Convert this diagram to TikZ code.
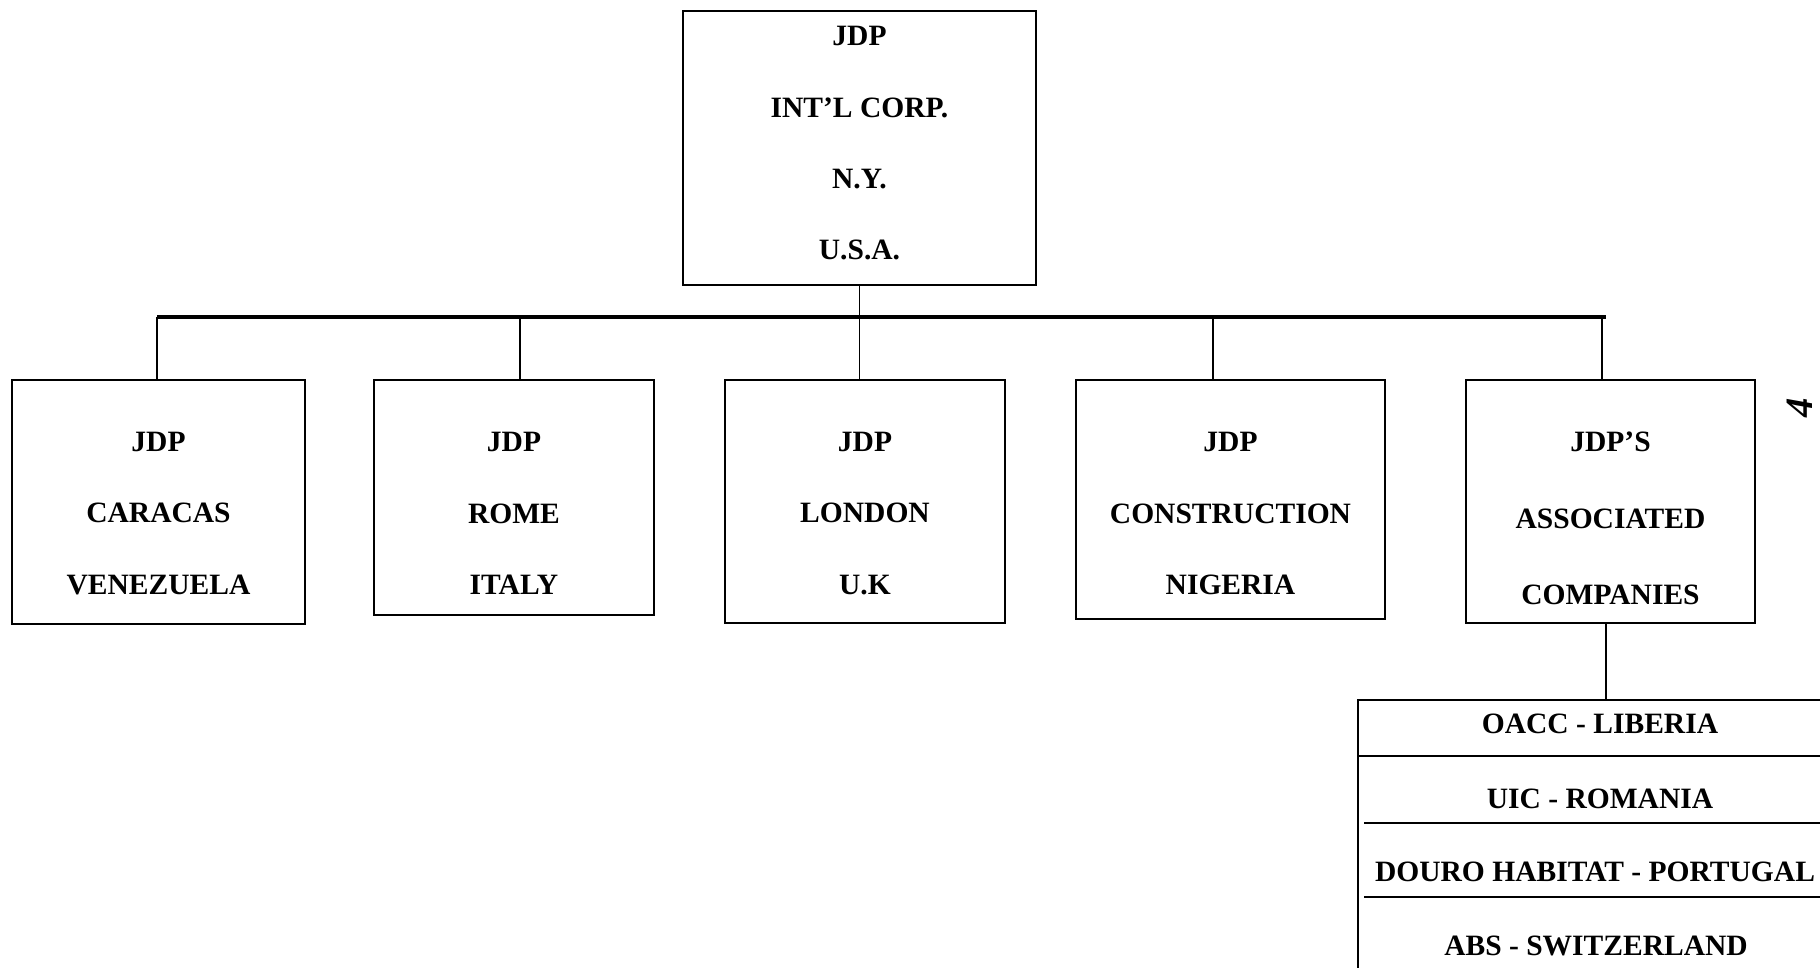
\documentclass[tikz,border=0pt]{standalone}
\usepackage{fontspec}
\setmainfont{Liberation Serif}
\tikzset{
      unit/.style = { draw, line width=0.6pt, inner sep=0pt },
     title/.style = { font=\bfseries\fontsize{8.4}{20.3}\selectfont, align=center, inner sep=0pt },
   program/.style = { font=\bfseries\fontsize{8.4}{21.8}\selectfont, align=center, inner sep=0pt },
      item/.style = { font=\bfseries\fontsize{8.4}{10}\selectfont, inner sep=0pt },
       bar/.style = { line width=1.3pt },
      link/.style = { line width=0.5pt },
}

\begin{document}
\begin{tikzpicture}
  \useasboundingbox (0,0) rectangle (18.2,-9.68);
  \clip (0,0) rectangle (18.2,-9.68);

  % head office
  \node[unit, minimum width=3.53cm, minimum height=2.74cm] (hq) at (8.595,-1.48) {};
  \node[title] (hq-t) at (8.595,-1.435) {JDP\\INT'L CORP.\\N.Y.\\U.S.A.};

  % bar
  \coordinate (bar-l) at (1.57,-3.17);
  \coordinate (bar-r) at (16.06,-3.17);
  \draw [bar] (bar-l) -- (bar-r);
  \draw [link] (hq.south) -- (hq.south |- bar-l);

  % branches
  \foreach \n/\x/\y/\w/\h/\ty/\dx/\txt in {
      caracas/1.585/5.02/2.93/2.44/5.135/1.57/{JDP\\CARACAS\\VENEZUELA},
      rome/5.14/4.975/2.80/2.35/5.135/5.20/{JDP\\ROME\\ITALY},
      london/8.65/5.015/2.80/2.43/5.135/8.595/{JDP\\LONDON\\U.K},
      nigeria/12.305/4.995/3.09/2.39/5.135/12.13/{JDP\\CONSTRUCTION\\NIGERIA}} {
    \node[unit, minimum width=\w cm, minimum height=\h cm] (\n) at (\x,-\y) {};
    \node[title] (\n-t) at (\x,-\ty) {\txt};
    \coordinate (\n-d) at (\dx,-3.17);
    \draw [link] (\n-d) -- (\n-d |- \n.north);
  }

  % associated companies
  \node[unit, minimum width=2.89cm, minimum height=2.43cm] (assoc) at (16.105,-5.015) {};
  \node[program] (assoc-t) at (16.105,-5.185) {JDP'S\\ASSOCIATED\\COMPANIES};
  \coordinate (assoc-d) at (16.02,-3.17);
  \draw [link] (assoc-d) -- (assoc-d |- assoc.north);

  % list of companies
  \coordinate (list) at (16.06,-7.00);
  \draw [link] (list |- assoc.south) -- (list);
  \draw [unit] (13.58,-10.0) -- (13.58,-7.00) -- (18.5,-7.00);
  \draw [unit] (13.58,-7.56) -- (18.5,-7.56);
  \draw [unit] (13.64,-8.23) -- (18.5,-8.23);
  \draw [unit] (13.64,-8.97) -- (18.5,-8.97);
  \node[item] (oacc) at (16.00,-7.24) {OACC - LIBERIA};
  \node[item] (uic) at (16.00,-7.99) {UIC - ROMANIA};
  \node[item] (douro) at (15.95,-8.72) {DOURO HABITAT - PORTUGAL};
  \node[item] (abs) at (15.96,-9.46) {ABS - SWITZERLAND};

  % page number
  \node[item, font=\bfseries\itshape\fontsize{11}{12}\selectfont, rotate=90] (page) at (18.0,-4.08) {4};
\end{tikzpicture}
\end{document}
